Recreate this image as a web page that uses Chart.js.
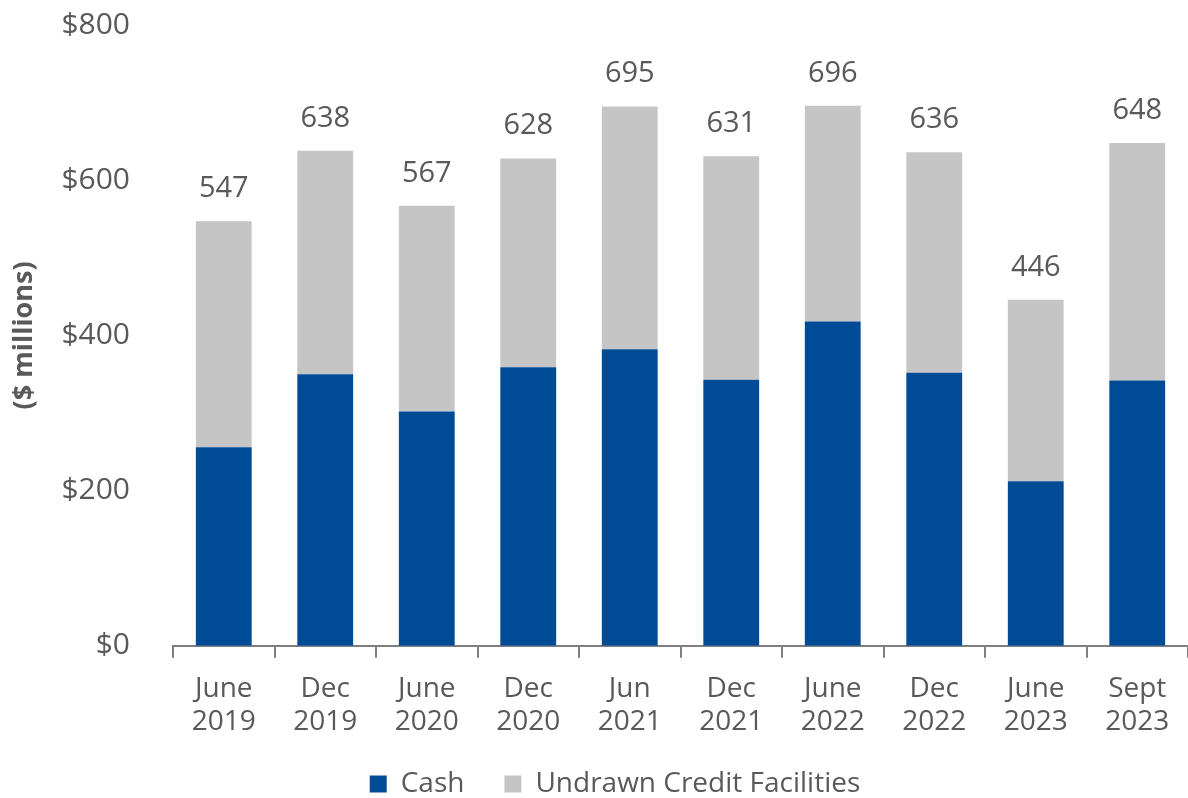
<!DOCTYPE html>
<html>
<head>
<meta charset="utf-8">
<script src="https://cdn.jsdelivr.net/npm/chart.js@4/dist/chart.umd.min.js"></script>
<style>
  body { margin: 0; background: #fff; }
  .chartContainer { width: 1188px; height: 798px; }
</style>
</head>
<body>
<div class="chartContainer"><canvas id="chart"></canvas></div>
<script>
const categories = [
  ['June', '2019'], ['Dec', '2019'], ['June', '2020'], ['Dec', '2020'], ['Jun', '2021'],
  ['Dec', '2021'], ['June', '2022'], ['Dec', '2022'], ['June', '2023'], ['Sept', '2023']
];
const totals = [547, 638, 567, 628, 695, 631, 696, 636, 446, 648];
const cash = [256, 350, 302, 359, 382, 343, 418, 352, 212, 342];
const undrawn = totals.map((t, i) => t - cash[i]);

const textColor = '#595959';
const fontFamily = '"Open Sans", sans-serif';

// draws the total above each stacked bar
const totalLabels = {
  id: 'totalLabels',
  afterLayout(chart) {
    // legend sits a bit right of centre in the original
    chart.legend.left += 34;
  },
  afterDatasetsDraw(chart) {
    const ctx = chart.ctx;
    const meta = chart.getDatasetMeta(0);
    const yScale = chart.scales.y;
    ctx.save();
    ctx.fillStyle = textColor;
    ctx.font = '29px ' + fontFamily;
    ctx.textAlign = 'center';
    ctx.textBaseline = 'alphabetic';
    totals.forEach((t, i) => {
      const x = meta.data[i].x;
      const y = yScale.getPixelForValue(t);
      ctx.fillText(String(t), x, y - 24);
    });
    ctx.restore();
  }
};

new Chart(document.getElementById('chart').getContext('2d'), {
  type: 'bar',
  data: {
    labels: categories,
    datasets: [
      { label: 'Cash', data: cash, backgroundColor: '#004b96', categoryPercentage: 1, barPercentage: 0.55 },
      { label: 'Undrawn Credit Facilities', data: undrawn, backgroundColor: '#c5c5c5', categoryPercentage: 1, barPercentage: 0.55 }
    ]
  },
  options: {
    responsive: true,
    maintainAspectRatio: false,
    animation: false,
    layout: { padding: { top: 25, right: 0, left: 8, bottom: -10 } },
    plugins: {
      legend: {
        position: 'bottom',
        labels: {
          color: textColor,
          font: { family: fontFamily, size: 28 },
          boxWidth: 17,
          boxHeight: 17,
          padding: 40
        }
      },
      tooltip: { enabled: false }
    },
    scales: {
      x: {
        stacked: true,
        grid: { display: true, drawOnChartArea: false, offset: true, color: '#7f7f7f', lineWidth: 2, tickLength: 12 },
        border: { display: true, color: '#7f7f7f', width: 2 },
        ticks: { color: textColor, font: { family: fontFamily, size: 28, lineHeight: 1.2 }, padding: 14, maxRotation: 0 },
        afterFit(scale) { scale.height -= 23; }
      },
      y: {
        stacked: true,
        min: 0,
        max: 800,
        grid: { display: false },
        border: { display: false },
        ticks: {
          stepSize: 200,
          color: textColor,
          font: { family: fontFamily, size: 30 },
          padding: 35,
          callback: v => '$' + v
        },
        title: {
          display: true,
          text: '($ millions)',
          color: textColor,
          font: { family: fontFamily, size: 27, weight: 'bold' },
          padding: { top: 0, bottom: 20 }
        },
        afterFit(scale) {
          scale.width = 165;
          scale.paddingTop = 0;
          scale.paddingBottom = 0;
        }
      }
    }
  },
  plugins: [totalLabels]
});
</script>
</body>
</html>
